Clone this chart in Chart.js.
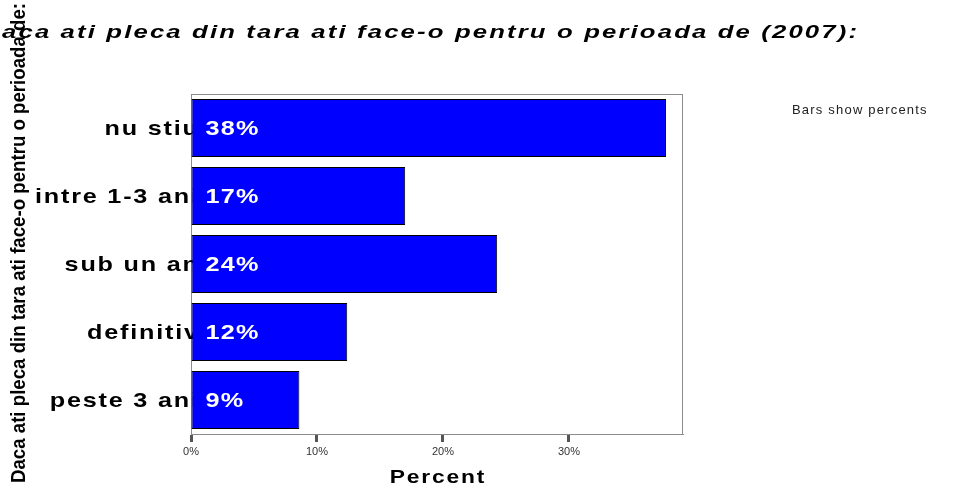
<!DOCTYPE html>
<html>
<head>
<meta charset="utf-8">
<script src="https://cdn.jsdelivr.net/npm/chart.js@4"></script>
<style>
html,body{margin:0;padding:0;background:#fff;}
#wrap{width:957px;height:485px;position:relative;}
</style>
</head>
<body>
<div id="wrap"><canvas id="c" width="957" height="485"></canvas></div>
<script>
const categories = ['nu stiu', 'intre 1-3 ani', 'sub un an', 'definitiv', 'peste 3 ani'];
const percents = [37.7, 17.0, 24.3, 12.4, 8.6];
const valueLabels = ['38%', '17%', '24%', '12%', '9%'];
const xTickValues = [0, 10, 20, 30];
const titleText = 'Daca ati pleca din tara ati face-o pentru o perioada de (2007):';
const yTitleText = 'Daca ati pleca din tara ati face-o pentru o perioada de:';
const xTitleText = 'Percent';
const noteText = 'Bars show percents';

const FAM = '"Liberation Sans", Arial, Helvetica, sans-serif';

function drawText(ctx, text, x, y, o) {
  ctx.save();
  ctx.font = o.font;
  ctx.letterSpacing = (o.spacing || 0) + 'px';
  ctx.fillStyle = o.color || '#000';
  ctx.textBaseline = o.baseline || 'alphabetic';
  ctx.textAlign = 'left';
  const sx = o.sx || 1;
  const w = (ctx.measureText(text).width - (o.spacing || 0)) * sx;
  let left = x;
  if (o.align === 'right') left = x - w;
  else if (o.align === 'center') left = x - w / 2;
  ctx.translate(left, y);
  ctx.scale(sx, 1);
  ctx.fillText(text, 0, 0);
  ctx.letterSpacing = '0px';
  ctx.restore();
}

const decor = {
  id: 'decor',
  beforeDatasetsDraw(chart) {
    const ctx = chart.ctx;
    const a = chart.chartArea;
    ctx.save();
    ctx.strokeStyle = '#8c8c8c';
    ctx.lineWidth = 1;
    ctx.strokeRect(a.left + 0.5, a.top + 0.5, a.right - a.left - 1, a.bottom - a.top);
    ctx.restore();
    const ys = chart.scales.y;
    categories.forEach((c, i) => {
      const y = ys.getPixelForTick(i);
      drawText(ctx, c, a.left + 7, y + 1, {font: 'bold 21px ' + FAM, align: 'right', baseline: 'middle', spacing: 1.5, sx: 1.2, color: '#000'});
    });
  },
  afterDatasetsDraw(chart) {
    const ctx = chart.ctx;
    const meta = chart.getDatasetMeta(0);
    meta.data.forEach((bar, i) => {
      drawText(ctx, valueLabels[i], bar.base + 14, bar.y + 1, {font: 'bold 21px ' + FAM, baseline: 'middle', spacing: 1, sx: 1.2, color: '#fff'});
    });
  },
  afterDraw(chart) {
    const ctx = chart.ctx;
    const a = chart.chartArea;
    ctx.save();
    ctx.font = 'italic bold 18px ' + FAM;
    ctx.letterSpacing = '1.5px';
    const wv = ctx.measureText(titleText.slice(1)).width - 1.5;
    ctx.letterSpacing = '0px';
    ctx.restore();
    const tsx = 855 / wv;
    drawText(ctx, titleText, 857, 38, {font: 'italic bold 18px ' + FAM, align: 'right', spacing: 1.5, sx: tsx, color: '#000'});
    ctx.save();
    ctx.translate(25, 483);
    ctx.rotate(-Math.PI / 2);
    ctx.font = 'bold 20px ' + FAM;
    ctx.fillStyle = '#000';
    ctx.textAlign = 'left';
    ctx.textBaseline = 'alphabetic';
    ctx.fillText(yTitleText, 0, 0, 480);
    ctx.restore();
    drawText(ctx, xTitleText, (a.left + a.right) / 2, 483, {font: 'bold 19px ' + FAM, align: 'center', spacing: 1.5, sx: 1.2, color: '#000'});
    drawText(ctx, noteText, 792, 114, {font: '13px ' + FAM, spacing: 1.2, color: '#222'});
  }
};

new Chart(document.getElementById('c'), {
  type: 'bar',
  data: {
    labels: categories,
    datasets: [{
      data: percents,
      backgroundColor: '#0000ff',
      borderColor: '#000',
      borderWidth: 1,
      borderSkipped: false,
      categoryPercentage: 1,
      barPercentage: 0.85
    }]
  },
  options: {
    indexAxis: 'y',
    responsive: false,
    animation: false,
    devicePixelRatio: 1,
    layout: {padding: {left: 0, top: 94, right: 274, bottom: 0}},
    plugins: {legend: {display: false}, tooltip: {enabled: false}, title: {display: false}},
    scales: {
      x: {
        min: 0,
        max: 39.05,
        afterBuildTicks: s => { s.ticks = xTickValues.map(v => ({value: v})); },
        afterFit: s => { s.height = 51; },
        grid: {drawOnChartArea: false, drawTicks: true, tickLength: 8, tickWidth: 3, tickColor: '#555'},
        border: {display: true, color: '#8c8c8c', width: 1},
        ticks: {
          padding: 3,
          maxRotation: 0,
          color: '#333',
          font: {family: FAM, size: 11},
          callback: v => v + '%'
        }
      },
      y: {
        afterFit: s => { s.width = 191; },
        grid: {display: false},
        border: {display: false},
        ticks: {display: false}
      }
    }
  },
  plugins: [decor]
});
</script>
</body>
</html>
